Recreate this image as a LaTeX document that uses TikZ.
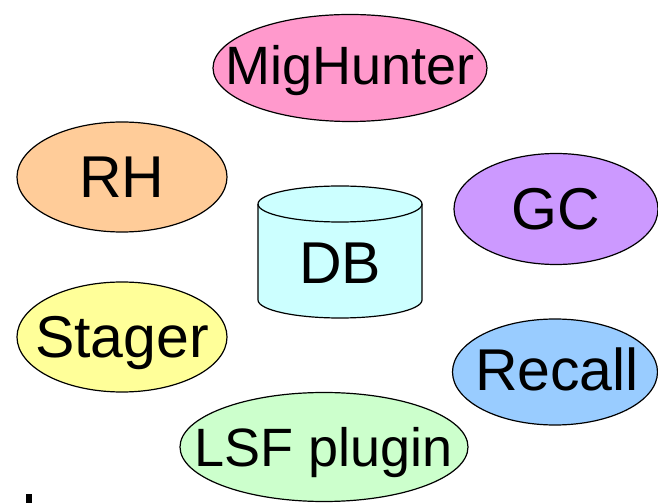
\documentclass[tikz,border=0pt]{standalone}
\usepackage{fontspec}
\setmainfont{Liberation Sans}
\usetikzlibrary{shapes.geometric}
\definecolor{pinkfill}{HTML}{FF99CC}
\definecolor{peachfill}{HTML}{FFCC99}
\definecolor{lilacfill}{HTML}{CC99FF}
\definecolor{yellowfill}{HTML}{FFFF99}
\definecolor{bluefill}{HTML}{99CCFF}
\definecolor{greenfill}{HTML}{CCFFCC}
\definecolor{cyanfill}{HTML}{CCFFFF}
\tikzset{
  tool/.style={ellipse, draw=black, line width=1.2pt, inner sep=0pt},
  lbl/.style={inner sep=0pt, font=\fontsize{54}{60}\selectfont, text height=38.5pt, text depth=0pt},
  biglbl/.style={inner sep=0pt, font=\fontsize{59}{66}\selectfont, text height=42pt, text depth=0pt}
}
\begin{document}
\begin{tikzpicture}[x=1pt, y=1pt]
  \useasboundingbox (0,0) rectangle (658,503);

  % component ellipses
  \node[tool, fill=pinkfill, minimum width=274pt, minimum height=107pt] (mh) at (350,435) {};
  \node[lbl] (mhtext) at ([yshift=3pt]mh) {MigHunter};

  \node[tool, fill=peachfill, minimum width=210pt, minimum height=110pt] (rh) at (122,326) {};
  \node[biglbl] (rhtext) at (rh) {RH};

  \node[tool, fill=lilacfill, minimum width=204pt, minimum height=111pt] (gc) at (556,294) {};
  \node[biglbl] (gctext) at (gc) {GC};

  \node[tool, fill=yellowfill, minimum width=210pt, minimum height=110pt] (st) at (122,166) {};
  \node[biglbl] (sttext) at (st) {Stager};

  \node[tool, fill=bluefill, minimum width=205pt, minimum height=106pt] (rc) at (555,131) {};
  \node[biglbl] (rctext) at ([xshift=2pt,yshift=2pt]rc) {Recall};

  \node[tool, fill=greenfill, minimum width=288pt, minimum height=109pt] (lsf) at (324,56) {};
  \node[lbl] (lsftext) at (lsf) {LSF plugin};

  % database cylinder
  \path[fill=cyanfill, draw=black, line width=1.2pt]
    (258,299) -- (258,203)
    arc[start angle=180, end angle=360, x radius=82, y radius=18]
    -- (422,299)
    arc[start angle=0, end angle=180, x radius=82, y radius=18] -- cycle;
  \draw[line width=1.2pt] (258,299)
    arc[start angle=180, end angle=360, x radius=82, y radius=18];
  \node[biglbl] (db) at (340,240) {DB};

  % cut-off mark at the lower left
  \fill[black] (26,0) rectangle (31.7,8.7);
\end{tikzpicture}
\end{document}
